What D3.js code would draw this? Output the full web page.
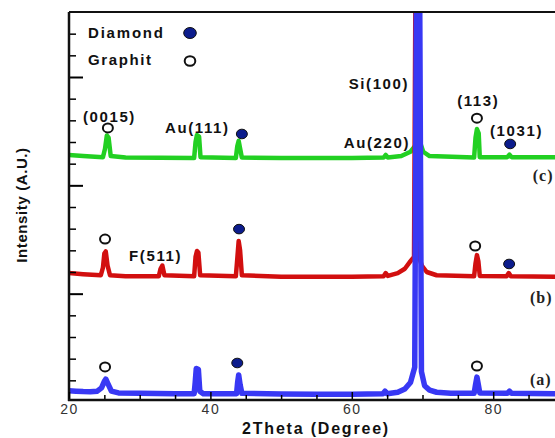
<!DOCTYPE html>
<html>
<head>
<meta charset="utf-8">
<title>XRD patterns</title>
<style>
  body { margin: 0; background: #fff; }
  .lbl { font-family: "Liberation Sans", Arial, sans-serif; font-weight: bold; font-size: 15px; letter-spacing: 1.6px; fill: #111; }
  .tag { font-family: "Liberation Serif", "Times New Roman", serif; font-weight: bold; font-size: 16px; letter-spacing: 1px; fill: #222; }
</style>
</head>
<body>
<script src="https://d3js.org/d3.v7.min.js"></script>
<script>

// 2theta (deg), intensity (arb. units, offset per sample)
var traceA = [[20,0.52],[21,0.5],[22,0.48],[23,0.47],[24,0.5],[24.6,0.65],[25,0.95],[25.2,1.06],[25.5,0.85],[26,0.5],[27,0.42],[30,0.4],[35,0.38],
  [37.7,0.38],[37.85,0.9],[38.0,1.55],[38.3,1.5],[38.5,0.5],[39,0.38],[43.7,0.38],[43.85,0.9],[44.0,1.25],[44.2,0.8],[44.45,0.4],
  [50,0.37],[55,0.36],[60,0.36],[64.4,0.38],[64.7,0.5],[65,0.38],[66.5,0.45],[67.5,0.6],[68.3,0.9],[68.9,1.6],[69.15,19],[69.6,19],
  [69.85,1.4],[70.3,0.75],[71,0.55],[72,0.45],[74,0.4],[77.3,0.4],[77.5,0.8],[77.7,1.15],[77.9,0.8],[78.1,0.42],[82,0.4],[82.3,0.5],[82.6,0.4],[90,0.38]];

var traceB = [[20,5.95],[22,5.9],[24.5,5.85],[24.8,6.2],[25.0,6.85],[25.2,6.95],[25.45,6.3],[25.8,5.85],[28,5.8],[32.7,5.8],[32.95,6.15],[33.2,6.3],[33.5,5.85],
  [37.7,5.8],[37.9,6.7],[38.1,6.97],[38.3,6.9],[38.55,5.85],[43.6,5.8],[43.8,6.6],[44.0,7.43],[44.2,7.0],[44.45,5.85],[50,5.78],[60,5.78],
  [64.5,5.8],[64.8,5.95],[65.1,5.82],[66.5,5.95],[67.5,6.15],[68.3,6.5],[68.8,6.7],[69.0,19],[69.05,19],[69.4,6.8],[69.9,6.3],[70.6,6.0],[72,5.85],
  [77.3,5.8],[77.5,6.4],[77.7,6.78],[77.9,6.5],[78.1,5.82],[81.9,5.8],[82.2,5.95],[82.5,5.8],[90,5.78]];

var traceC = [[20,11.4],[22,11.35],[24.8,11.3],[25.1,11.7],[25.35,12.3],[25.6,12.2],[25.9,11.35],[28,11.28],[37.7,11.26],[37.9,12.0],[38.1,12.32],[38.4,12.25],[38.6,11.3],
  [43.6,11.26],[43.8,11.8],[44.0,12.05],[44.2,11.7],[44.45,11.28],[50,11.26],[60,11.26],[64.5,11.28],[64.8,11.4],[65.1,11.28],[67,11.35],
  [68.3,11.55],[68.9,11.8],[69.2,11.9],[69.7,11.95],[70.1,11.55],[71,11.35],[77.3,11.28],[77.5,12.2],[77.7,12.6],[77.95,12.4],[78.1,11.3],
  [82,11.3],[82.3,11.42],[82.6,11.3],[90,11.3]];

var xTicks = [20, 40, 60, 80];

var graphitMarks = [[25.5,12.65],[77.7,13.1],[25.1,7.52],[77.45,7.2],[25.1,1.62],[77.7,1.66]];
var diamondMarks = [[44.45,12.37],[82.4,11.91],[44.05,7.98],[82.25,6.37],[43.8,1.8]];

var peakLabels = [
  {t: "(0015)", x: 21.98, y: 12.92, a: "start"},
  {t: "Au(111)", x: 33.58, y: 12.41, a: "start"},
  {t: "Si(100)", x: 68.1, y: 14.45, a: "end"},
  {t: "Au(220)", x: 68.23, y: 11.72, a: "end"},
  {t: "(113)", x: 74.9, y: 13.66, a: "start"},
  {t: "(1031)", x: 79.55, y: 12.28, a: "start"},
  {t: "F(511)", x: 28.5, y: 6.51, a: "start"}
];
var sampleTags = [{t: "(c)", x: 85.6, y: 10.2}, {t: "(b)", x: 85.2, y: 4.57}, {t: "(a)", x: 85.2, y: 0.78}];

var W = 555, H = 438;
var plotLeft = 69, plotTop = 12, axisY = 400;

var x = d3.scaleLinear().domain([20, 90]).range([plotLeft, plotLeft + 70 * 7.07]);
var y = d3.scaleLinear().domain([0, 18]).range([402, plotTop]);

var svg = d3.select("body").append("svg")
    .attr("width", W)
    .attr("height", H);

svg.append("clipPath").attr("id", "plot")
  .append("rect")
    .attr("x", plotLeft).attr("y", plotTop)
    .attr("width", W - plotLeft).attr("height", axisY - plotTop);

var line = d3.line()
    .x(function(d) { return x(d[0]); })
    .y(function(d) { return y(d[1]); });

var traces = svg.append("g").attr("clip-path", "url(#plot)");

traces.append("path").datum(traceC)
    .attr("d", line)
    .style("fill", "none").style("stroke", "#22d022").style("stroke-width", 4.5)
    .style("stroke-linejoin", "round");

traces.append("path").datum(traceB)
    .attr("d", line)
    .style("fill", "none").style("stroke", "#d20f0f").style("stroke-width", 4.5)
    .style("stroke-linejoin", "round");

traces.append("path").datum(traceA)
    .attr("d", line)
    .style("fill", "none").style("stroke", "#3838f4").style("stroke-width", 5.5)
    .style("stroke-linejoin", "round");

// frame: top border
svg.append("line")
    .attr("x1", plotLeft).attr("x2", W)
    .attr("y1", plotTop).attr("y2", plotTop)
    .style("stroke", "#111").style("stroke-width", 2);

// y axis, ticks pointing inward
svg.append("g")
    .attr("transform", "translate(" + plotLeft + ",0)")
    .call(d3.axisRight(y).tickValues(d3.range(1, 18).filter(function(v) { return v % 5; }))
      .tickSize(7).tickSizeOuter(0).tickFormat(""))
    .call(function(g) { g.select(".domain").remove(); g.selectAll("line").style("stroke-width", 1.5); });

svg.append("g")
    .attr("transform", "translate(" + plotLeft + ",0)")
    .call(d3.axisRight(y).tickValues([5, 10, 15]).tickSize(14).tickSizeOuter(0).tickFormat(""))
    .call(function(g) { g.select(".domain").remove(); g.selectAll("line").style("stroke-width", 2); });

svg.append("line")
    .attr("x1", plotLeft).attr("x2", plotLeft)
    .attr("y1", plotTop).attr("y2", axisY + 1)
    .style("stroke", "#111").style("stroke-width", 2.5);

// x axis
svg.append("g")
    .attr("transform", "translate(0," + axisY + ")")
    .call(d3.axisBottom(x).tickValues(d3.range(25, 90, 5).filter(function(v) { return v % 20; }))
      .tickSize(-5).tickSizeOuter(0).tickFormat(""))
    .call(function(g) { g.select(".domain").remove(); g.selectAll("line").style("stroke-width", 1.5); });

svg.append("g")
    .attr("transform", "translate(0," + axisY + ")")
    .call(d3.axisBottom(x).tickValues(xTicks).tickSize(-8).tickSizeOuter(0).tickPadding(4).tickFormat(d3.format("d")))
    .call(function(g) {
      g.select(".domain").remove();
      g.selectAll("line").style("stroke-width", 1.5);
      g.selectAll("text")
        .attr("font-family", "Liberation Sans, Arial, sans-serif")
        .attr("font-size", 14)
        .style("letter-spacing", "1.5px")
        .attr("fill", "#333");
    });

svg.append("line")
    .attr("x1", plotLeft - 1).attr("x2", W)
    .attr("y1", axisY).attr("y2", axisY)
    .style("stroke", "#111").style("stroke-width", 2.5);

// axis titles
svg.append("text")
    .attr("class", "lbl")
    .attr("transform", "translate(27,205) rotate(-90)")
    .attr("text-anchor", "middle")
    .style("letter-spacing", "0.6px")
    .text("Intensity (A.U.)");

svg.append("text")
    .attr("class", "lbl")
    .attr("x", 316).attr("y", 434)
    .attr("text-anchor", "middle")
    .style("font-size", "16px")
    .style("letter-spacing", "1.8px")
    .text("2Theta (Degree)");

// peak markers
svg.append("g").selectAll("ellipse")
    .data(graphitMarks).join("ellipse")
    .attr("cx", function(d) { return x(d[0]); })
    .attr("cy", function(d) { return y(d[1]); })
    .attr("rx", 5).attr("ry", 4.5)
    .style("fill", "#fff").style("stroke", "#111").style("stroke-width", 2);

svg.append("g").selectAll("ellipse")
    .data(diamondMarks).join("ellipse")
    .attr("cx", function(d) { return x(d[0]); })
    .attr("cy", function(d) { return y(d[1]); })
    .attr("rx", 5.5).attr("ry", 4.8)
    .style("fill", "#0c1c8c").style("stroke", "#111").style("stroke-width", 1);

svg.append("g").selectAll("text")
    .data(peakLabels).join("text")
    .attr("class", "lbl")
    .attr("x", function(d) { return x(d.x); })
    .attr("y", function(d) { return y(d.y); })
    .attr("text-anchor", function(d) { return d.a; })
    .text(function(d) { return d.t; });

svg.append("g").selectAll("text")
    .data(sampleTags).join("text")
    .attr("class", "tag")
    .attr("x", function(d) { return x(d.x); })
    .attr("y", function(d) { return y(d.y); })
    .text(function(d) { return d.t; });

// legend
var legend = svg.append("g");
legend.append("text").attr("class", "lbl").attr("x", 88).attr("y", 38).style("letter-spacing", "1.8px").text("Diamond");
legend.append("ellipse").attr("cx", 190).attr("cy", 33).attr("rx", 6.3).attr("ry", 5.5)
    .style("fill", "#0c1c8c").style("stroke", "#111").style("stroke-width", 1);
legend.append("text").attr("class", "lbl").attr("x", 88).attr("y", 65).text("Graphit");
legend.append("ellipse").attr("cx", 190).attr("cy", 61).attr("rx", 5.3).attr("ry", 4.8)
    .style("fill", "#fff").style("stroke", "#111").style("stroke-width", 2);

</script>
</body>
</html>
